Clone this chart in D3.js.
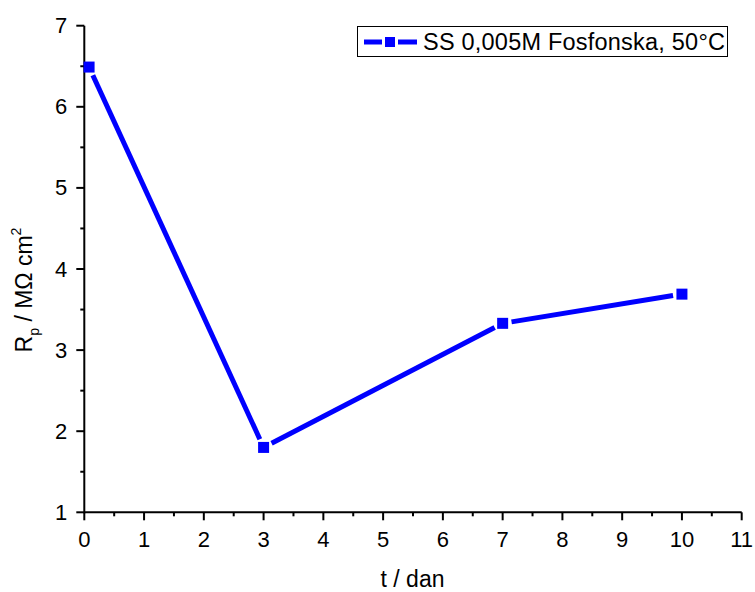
<!DOCTYPE html>
<html><head><meta charset="utf-8">
<script src="https://cdn.jsdelivr.net/npm/d3@7"></script>
<style>body{margin:0;background:#fff}svg{display:block;font-family:"Liberation Sans",Arial,sans-serif}</style>
</head><body><svg id="c" width="755" height="592"></svg>
<script>
const days = [0.08, 3, 7, 10];
const rp = [6.49, 1.80, 3.33, 3.69];
const seriesName = "SS 0,005M Fosfonska, 50°C";
const xTicks = [0,1,2,3,4,5,6,7,8,9,10,11];
const yTicks = [1,2,3,4,5,6,7];

const svg = d3.select("#c");
const x = d3.scaleLinear().domain([0,11]).range([84.3,741.7]);
const y = d3.scaleLinear().domain([1,7]).range([512.3,25.7]);
const blue = "#0000ff";

const xMinor = d3.range(0.5, 11, 1);
const yMinor = d3.range(1.5, 7, 1);
const ax = svg.append("g").attr("stroke","#000").attr("stroke-width",2);
ax.append("line").attr("x1",x(0)).attr("x2",x(11)).attr("y1",y(1)).attr("y2",y(1));
ax.append("line").attr("x1",x(0)).attr("x2",x(0)).attr("y1",y(1)+1).attr("y2",y(7));
ax.selectAll(".xt").data(xTicks).join("line").attr("x1",d=>x(d)).attr("x2",d=>x(d)).attr("y1",y(1)).attr("y2",y(1)+8);
ax.selectAll(".xm").data(xMinor).join("line").attr("x1",d=>x(d)).attr("x2",d=>x(d)).attr("y1",y(1)).attr("y2",y(1)+4);
ax.selectAll(".yt").data(yTicks).join("line").attr("y1",d=>y(d)).attr("y2",d=>y(d)).attr("x1",x(0)).attr("x2",x(0)-8);
ax.selectAll(".ym").data(yMinor).join("line").attr("y1",d=>y(d)).attr("y2",d=>y(d)).attr("x1",x(0)).attr("x2",x(0)-4);

svg.append("g").selectAll("text").data(xTicks).join("text")
  .attr("x",d=>x(d)).attr("y",y(1)+35).attr("text-anchor","middle")
  .attr("font-size",22).text(d=>d);
svg.append("g").selectAll("text").data(yTicks).join("text")
  .attr("x",x(0)-17).attr("y",d=>y(d)+7.5).attr("text-anchor","end")
  .attr("font-size",22).text(d=>d);

svg.append("text").attr("x",412.5).attr("y",586.5).attr("text-anchor","middle").attr("font-size",23).text("t / dan");
const yt = svg.append("text").attr("transform","translate(31.7,290) rotate(-90)").attr("text-anchor","middle").attr("font-size",23);
yt.append("tspan").text("R");
yt.append("tspan").attr("font-size",14).attr("dy",7).text("p");
yt.append("tspan").attr("dy",-7).text(" / MΩ cm");
yt.append("tspan").attr("font-size",14).attr("dy",-11).text("2");

const pts = days.map((d,i)=>[x(d), y(rp[i])]);
const gap = 9;
const segs = d3.pairs(pts).map(([a,b])=>{
  const dx=b[0]-a[0], dy=b[1]-a[1], L=Math.hypot(dx,dy);
  return [a[0]+dx/L*gap, a[1]+dy/L*gap, b[0]-dx/L*gap, b[1]-dy/L*gap];
});
svg.append("g").selectAll("line").data(segs).join("line")
  .attr("x1",d=>d[0]).attr("y1",d=>d[1]).attr("x2",d=>d[2]).attr("y2",d=>d[3])
  .attr("stroke",blue).attr("stroke-width",5);
svg.append("g").selectAll("rect").data(pts).join("rect")
  .attr("x",d=>d[0]-5.5).attr("y",d=>d[1]-5.5).attr("width",11).attr("height",11).attr("fill",blue);

const lg = svg.append("g");
lg.append("rect").attr("x",357.5).attr("y",26.5).attr("width",370).attr("height",30).attr("fill","#fff").attr("stroke","#000").attr("stroke-width",1);
lg.append("line").attr("x1",364).attr("x2",382).attr("y1",42).attr("y2",42).attr("stroke",blue).attr("stroke-width",5);
lg.append("line").attr("x1",398).attr("x2",417).attr("y1",42).attr("y2",42).attr("stroke",blue).attr("stroke-width",5);
lg.append("rect").attr("x",385).attr("y",37).attr("width",10).attr("height",10).attr("fill",blue);
lg.append("text").attr("x",423).attr("y",50).attr("font-size",23.5).attr("textLength",302).text(seriesName);
</script></body></html>
